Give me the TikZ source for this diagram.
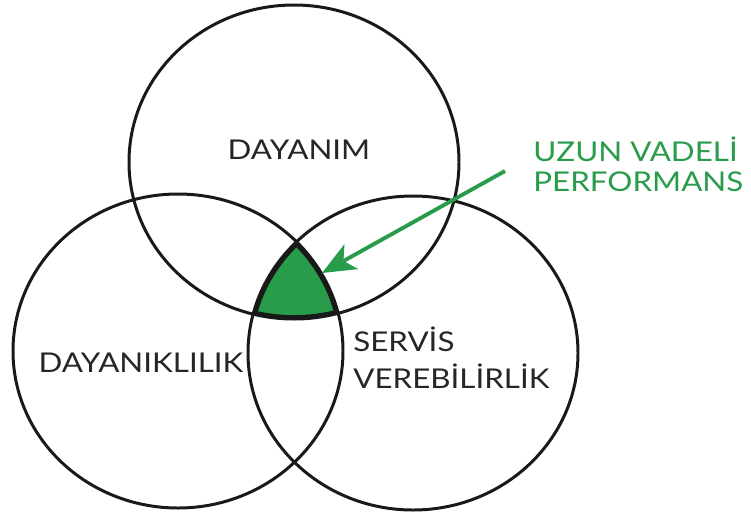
\documentclass[tikz,border=0pt]{standalone}
\usepackage{fontspec}
\setmainfont[FakeStretch=1.15]{Lato}
\usetikzlibrary{arrows.meta}
\usetikzlibrary{positioning}
\definecolor{venngreen}{RGB}{40,156,74}
\tikzstyle{ring}=[draw=black!90,line width=1.7pt]
\tikzstyle{caption}=[font=\fontsize{15.5}{21.5}\selectfont,text=black!85,align=left,inner sep=0pt]

\begin{document}
\begin{tikzpicture}[
  x=0.02cm, y=-0.02cm,
  core/.style={fill=venngreen},
  core edge/.style={draw=black!90,line width=4.4pt},
  pointer/.style={draw=venngreen,line width=2.2pt,-{Stealth[length=19pt,width=16pt,inset=5pt]}},
]
\useasboundingbox (0,0) rectangle (751,515);
  % centres of the three rings
  \coordinate (top) at (294,162);
  \coordinate (lft) at (178,351);
  \coordinate (rgt) at (413,353);
  % the common part
  \begin{scope}
    \clip (top) ellipse [x radius=165, y radius=157];
    \clip (lft) ellipse [x radius=165, y radius=157];
    \clip (rgt) ellipse [x radius=165, y radius=157];
    \fill[core] (rgt) ellipse [x radius=165, y radius=157];
    \draw[core edge] (top) ellipse [x radius=165, y radius=157]
                     (lft) ellipse [x radius=165, y radius=157]
                     (rgt) ellipse [x radius=165, y radius=157];
  \end{scope}
  \draw[ring] (top) ellipse [x radius=165, y radius=157];
  \draw[ring] (lft) ellipse [x radius=165, y radius=157];
  \draw[ring] (rgt) ellipse [x radius=165, y radius=157];
  % texts
  \node[caption] (dayanim) at (299,150) {DAYANIM};
  \node[caption] (dayaniklilik) at (141,363) {DAYANIKLILIK};
  \node[caption,anchor=north west] (servis) at (353,326) {SERVİS\\VEREBİLİRLİK};
  \node[caption,font=\fontsize{15.5}{17.5}\selectfont,text=venngreen,anchor=north west] (perf) at (533,136) {UZUN VADELİ\\PERFORMANS};
  % arrow
  \coordinate (tail) at (505,171);
  \coordinate (tip) at (322,273);
  \draw[pointer] (tail) -- (tip);
\end{tikzpicture}
\end{document}
